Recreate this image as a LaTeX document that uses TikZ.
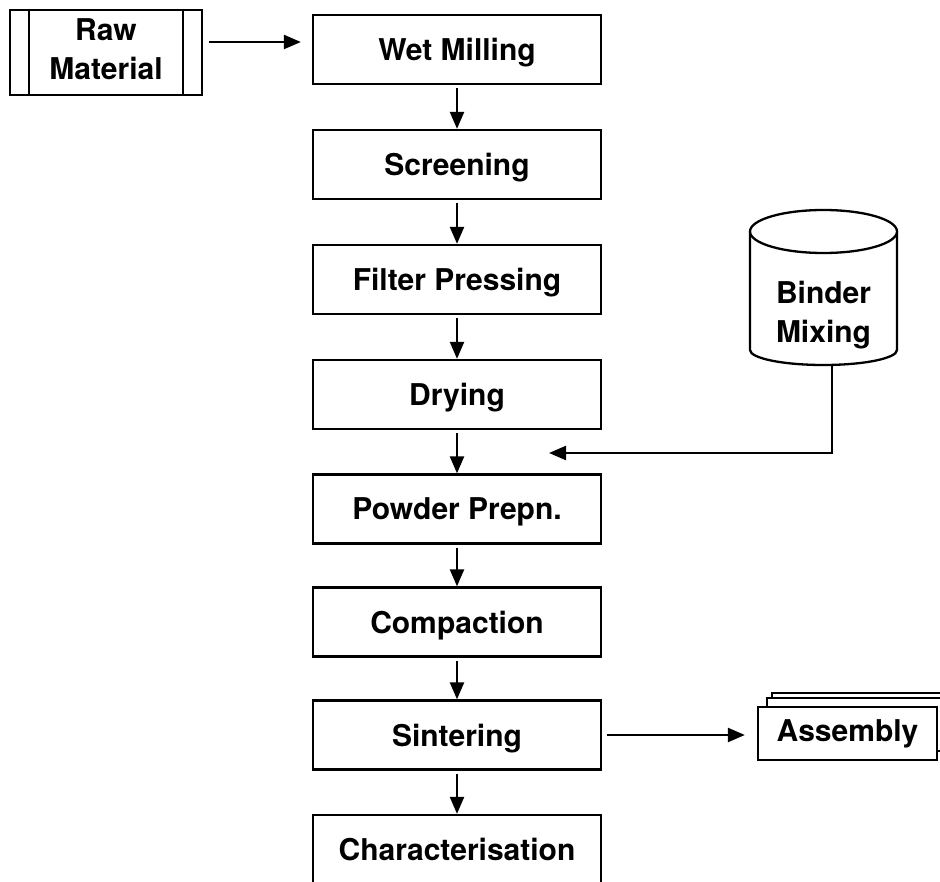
\documentclass[tikz,border=0pt]{standalone}
\usepackage{fontspec}
\setmainfont{TeX Gyre Heros}
\usetikzlibrary{arrows.meta,calc}
\begin{document}
\begin{tikzpicture}[x=1pt,y=-1pt,
  lw/.style={line width=2.3pt},
  proc/.style={draw,lw,rectangle,minimum width=288pt,minimum height=69pt,inner sep=0pt,font=\fontsize{30}{35}\selectfont\bfseries,fill=white,text depth=0pt},
  arr/.style={lw,-{Triangle[length=17pt,width=14pt]}},
  lbl/.style={font=\fontsize{30}{39}\selectfont\bfseries,align=center,inner sep=0pt}
]
\useasboundingbox[fill=white] (0,0) rectangle (940,882);
% main column
\node[proc] (wet)  at (457,49.5)  {Wet Milling};
\node[proc] (scr)  at (457,164.5) {Screening};
\node[proc] (fil)  at (457,279.5) {Filter Pressing};
\node[proc] (dry)  at (457,394.5) {Drying};
\node[proc] (pow)  at (457,509)   {Powder Prepn.};
\node[proc] (com)  at (457,622)   {Compaction};
\node[proc] (sin)  at (457,735)   {Sintering};
\node[proc] (cha)  at (457,849.5) {Characterisation};
% raw material
\node[draw,lw,rectangle,minimum width=192pt,minimum height=85pt,inner sep=0pt] (raw) at (106,52.5) {};
\draw[lw] ($(raw.north west)+(20,0)$) -- ($(raw.south west)+(20,0)$);
\draw[lw] ($(raw.north east)+(-20,0)$) -- ($(raw.south east)+(-20,0)$);
\node[lbl] (rawt) at (106,49) {Raw\\Material};
% binder cylinder
\draw[lw,fill=white] (750,231.5) -- (750,350) arc[start angle=180,end angle=0,x radius=73.5,y radius=15] -- (897,231.5);
\draw[lw,fill=white] (823.5,231.5) ellipse[x radius=73.5,y radius=21.5];
\node[lbl,minimum width=147pt,minimum height=100pt] (binder) at (823.5,315) {Binder\\Mixing};
\coordinate (bend) at (832,453);
\coordinate (bend-end) at (549,453);
\draw[arr] ([xshift=8.5pt]binder.south) -- (bend) -- (bend-end);
% assembly stack
\draw[lw,fill=white] (772,693) rectangle (960,746);
\draw[lw,fill=white] (767,698) rectangle (955,751);
\node[draw,lw,fill=white,minimum width=179pt,minimum height=53pt,inner sep=0pt,font=\fontsize{30}{35}\selectfont\bfseries] (asm) at (847.5,733.5) {Assembly};
% connectors
\draw[arr] ([xshift=6pt,yshift=10.5pt]raw.east) -- ([xshift=-11pt,yshift=7.5pt]wet.west);
\foreach \a/\b in {wet/scr,scr/fil,fil/dry,dry/pow,pow/com,com/sin,sin/cha}
  \draw[arr] ([yshift=-3pt]\a.south) -- (\b.north);
\draw[arr] ([xshift=5pt]sin.east) -- ([xshift=-12pt,yshift=-1.5pt]asm.west);
\end{tikzpicture}
\end{document}
